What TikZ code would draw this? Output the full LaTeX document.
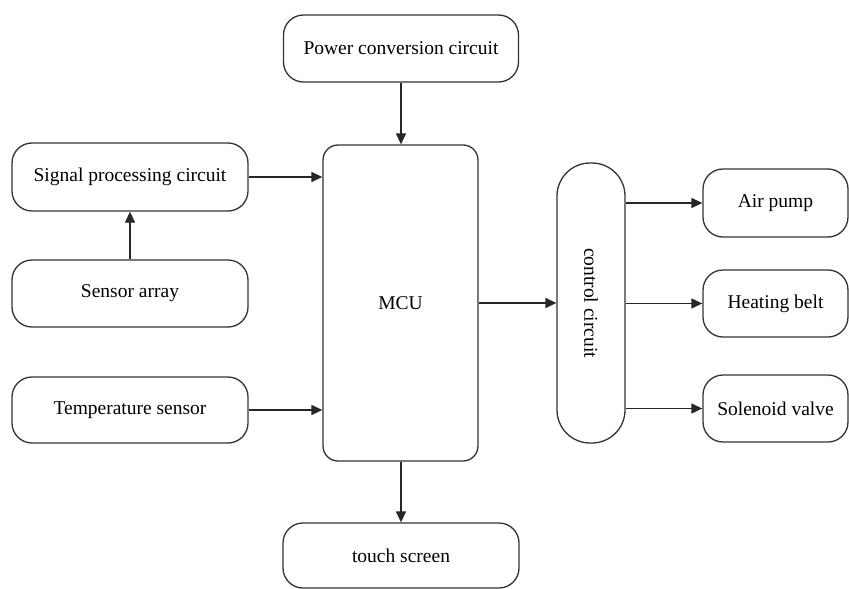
\documentclass[tikz,border=0pt]{standalone}
\usepackage{fontspec}
\setmainfont{Liberation Serif}
\newfontfamily\labelfont{Liberation Serif}
\usetikzlibrary{arrows.meta}
\begin{document}
\begin{tikzpicture}[x=1pt,y=-1pt,
  box/.style={draw=black!80, line width=1.3pt, rounded corners=20pt,
    inner sep=0pt, font=\labelfont\fontsize{19.5}{22}\selectfont, text=black},
  link/.style={draw=black!85, line width=1.3pt,
    -{Triangle[length=11pt,width=10pt]}}]
\useasboundingbox (0,0) rectangle (849,589);
% central controller and its supply/display
\node[box, minimum width=235pt, minimum height=67pt] (pwr) at (401,48.5) {Power conversion circuit};
\node[box, minimum width=155pt, minimum height=316pt, rounded corners=15pt] (mcu) at (400.5,303) {MCU};
\node[box, minimum width=236pt, minimum height=65pt] (touch) at (401,555.5) {touch screen};
% input side
\node[box, minimum width=236pt, minimum height=68pt] (sig) at (130,177) {Signal processing circuit};
\node[box, minimum width=236pt, minimum height=67pt] (arr) at (130,293.5) {Sensor array};
\node[box, minimum width=236pt, minimum height=66pt] (temp) at (130,410) {Temperature sensor};
% output side
\node[box, minimum width=68pt, minimum height=280pt, rounded corners=33pt] (ctrl) at (591,303) {};
\node[rotate=-90, font=\labelfont\fontsize{19.5}{22}\selectfont] (ctrltxt) at (ctrl.center) {control circuit};
\node[box, minimum width=145pt, minimum height=68pt] (pump) at (775.5,203) {Air pump};
\node[box, minimum width=145pt, minimum height=67pt] (heat) at (775.5,303.5) {Heating belt};
\node[box, minimum width=145pt, minimum height=67pt] (valve) at (775.5,408.5) {Solenoid valve};
% connectors
\draw[link] (pwr.south) -- (pwr.south |- mcu.north);
\draw[link] (touch.north |- mcu.south) -- (touch.north);
\draw[link] (arr.north) -- (sig.south);
\draw[link] (sig.east) -- (sig.east -| mcu.west);
\draw[link] (temp.east) -- (temp.east -| mcu.west);
\draw[link] (mcu.east |- ctrl.west) -- (ctrl.west);
\draw[link] (ctrl.east |- pump.west) -- (pump.west);
\draw[link] (ctrl.east |- heat.west) -- (heat.west);
\draw[link] (ctrl.east |- valve.west) -- (valve.west);
\end{tikzpicture}
\end{document}
